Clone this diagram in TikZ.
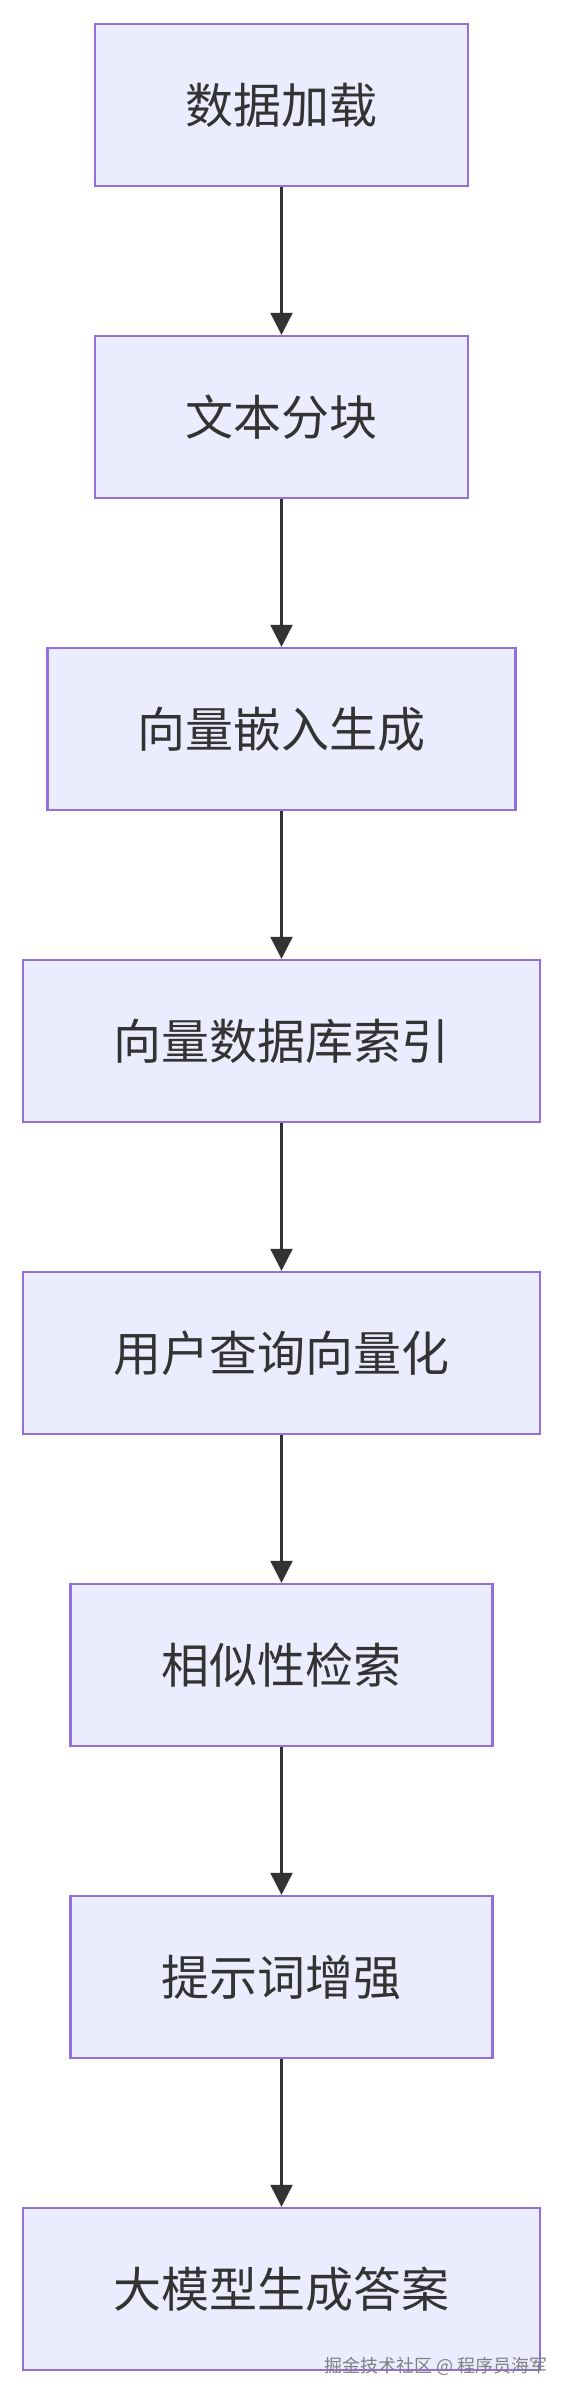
\documentclass[tikz,border=0pt]{standalone}
\usepackage{fontspec}
\newfontfamily\cjk{Noto Sans CJK SC}
\usetikzlibrary{arrows.meta}
\definecolor{boxfill}{HTML}{ECECFF}
\definecolor{boxline}{HTML}{9370DB}
\definecolor{ink}{HTML}{333333}
\tikzset{
  stepbox/.style={draw=boxline, fill=boxfill, line width=2.4pt, minimum height=162pt,
    inner sep=0pt, text=ink, font=\cjk\fontsize{48}{56}\selectfont},
  flow/.style={draw=ink, line width=2.2pt, -{Triangle[length=22pt,width=22pt]}}
}
\begin{document}
\begin{tikzpicture}[x=1pt,y=-1pt]
\useasboundingbox (0,0) rectangle (564,2394);
\fill[white] (0,0) rectangle (564,2394);
\node[stepbox, minimum width=373pt] (a) at (281.5,105) {数据加载};
\node[stepbox, minimum width=373pt] (b) at (281.5,417) {文本分块};
\node[stepbox, minimum width=468pt] (c) at (281.5,729) {向量嵌入生成};
\node[stepbox, minimum width=517pt] (d) at (281.5,1041) {向量数据库索引};
\node[stepbox, minimum width=517pt] (e) at (281.5,1353) {用户查询向量化};
\node[stepbox, minimum width=422pt] (f) at (281.5,1665) {相似性检索};
\node[stepbox, minimum width=422pt] (g) at (281.5,1977) {提示词增强};
\node[stepbox, minimum width=517pt] (h) at (281.5,2289) {大模型生成答案};
\foreach \s/\t in {a/b,b/c,c/d,d/e,e/f,f/g,g/h}
  \draw[flow] (\s.south) -- (\t.north);
\node[anchor=east, inner sep=0pt, text=black!50, font=\cjk\fontsize{18}{21}\selectfont] (wm) at (548,2366) {掘金技术社区 @ 程序员海军};
\end{tikzpicture}
\end{document}
